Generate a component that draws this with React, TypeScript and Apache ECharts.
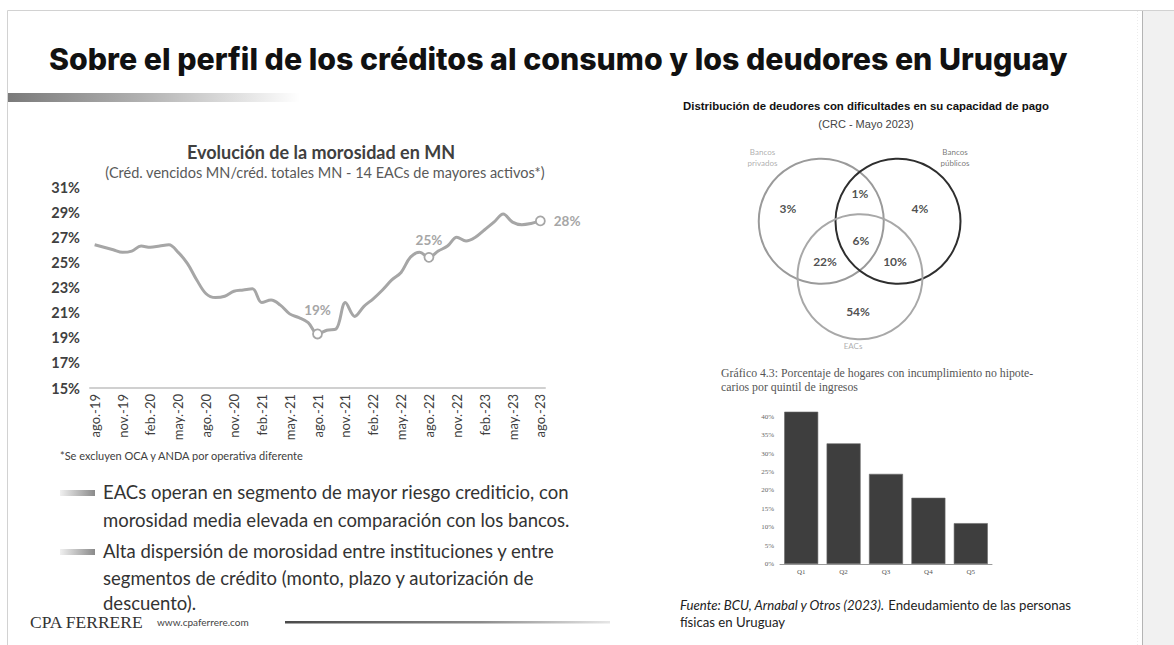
import React, { useEffect, useRef } from "react";
import * as echarts from "echarts";

// ---- Line chart: Evolución de la morosidad en MN ----
const monthLabels = [
  "ago.-19", "sep.-19", "oct.-19", "nov.-19", "dic.-19",
  "ene.-20", "feb.-20", "mar.-20", "abr.-20", "may.-20", "jun.-20", "jul.-20", "ago.-20", "sep.-20", "oct.-20", "nov.-20", "dic.-20",
  "ene.-21", "feb.-21", "mar.-21", "abr.-21", "may.-21", "jun.-21", "jul.-21", "ago.-21", "sep.-21", "oct.-21", "nov.-21", "dic.-21",
  "ene.-22", "feb.-22", "mar.-22", "abr.-22", "may.-22", "jun.-22", "jul.-22", "ago.-22", "sep.-22", "oct.-22", "nov.-22", "dic.-22",
  "ene.-23", "feb.-23", "mar.-23", "abr.-23", "may.-23", "jun.-23", "jul.-23", "ago.-23",
];
const morosidad = [
  26.4, 26.2, 26.0, 25.8, 25.9,
  26.3, 26.2, 26.3, 26.4, 25.8, 24.9, 23.6, 22.5, 22.2, 22.3, 22.7, 22.8,
  22.9, 21.8, 22.0, 21.6, 20.9, 20.6, 20.2, 19.3, 19.6, 19.7, 21.8, 20.7,
  21.5, 22.1, 22.8, 23.6, 24.2, 25.4, 25.8, 25.4, 25.9, 26.3, 27.0, 26.7,
  27.0, 27.6, 28.2, 28.85, 28.2, 28.0, 28.1, 28.3,
];
const markedPoints = [
  { index: 24, text: "19%", position: "top", distance: 12 },
  { index: 36, text: "25%", position: "top", distance: 5 },
  { index: 48, text: "28%", position: "right", distance: 8 },
];
const yMin = 15;
const yMax = 31;
const yStep = 2;

// ---- Venn: Distribución de deudores con dificultades ----
const vennSets = [
  { name: "Bancos\nprivados", cx: 34.5, cy: 67.5, r: 25, color: "#9a9a9a", labelX: 11, labelY: 93, labelColor: "#9a9a9a" },
  { name: "Bancos\npúblicos", cx: 65.2, cy: 67.5, r: 25, color: "#2e2e2e", labelX: 88, labelY: 93, labelColor: "#555555" },
  { name: "EACs", cx: 50, cy: 45.3, r: 25, color: "#a8a8a8", labelX: 47.2, labelY: 17.6, labelColor: "#9a9a9a" },
];
const vennRegionLabels = ["3%", "1%", "4%", "6%", "22%", "10%", "54%"];
const vennRegionX = [21.2, 50, 74, 50.4, 36, 64, 49.2];
const vennRegionY = [72.8, 78.8, 72.8, 59.7, 51.3, 51.3, 31.6];

// ---- Bar chart: hogares con incumplimiento por quintil ----
const quintiles = ["Q1", "Q2", "Q3", "Q4", "Q5"];
const hogaresIncumplimiento = [41.4, 32.8, 24.5, 18.0, 11.1];

const SANS = "Lato";

export default function App() {
  const ref = useRef<HTMLDivElement>(null);

  useEffect(() => {
    document.body.style.margin = "0";
    if (!ref.current) return;
    const chart = echarts.init(ref.current, undefined, { renderer: "svg" });

    const lineData = morosidad.map((v, i) => {
      const m = markedPoints.find((p) => p.index === i);
      if (!m) return v;
      return {
        value: v,
        symbol: "circle",
        symbolSize: 9,
        itemStyle: { color: "#ffffff", borderColor: "#a6a6a6", borderWidth: 1.8 },
        label: {
          show: true,
          position: m.position,
          distance: m.distance,
          formatter: m.text,
          color: "#a6a6a6",
          fontFamily: SANS,
          fontWeight: "bold",
          fontSize: 13.5,
        },
      };
    });

    const gradBar = (stops: [number, string][]) =>
      new echarts.graphic.LinearGradient(0, 0, 1, 0, stops.map(([offset, color]) => ({ offset, color })));

    const option: any = {
      animation: false,
      backgroundColor: "#ffffff",
      grid: [
        { left: 90, top: 187, width: 455, height: 201 },
        { left: 735, top: 140, width: 250, height: 250 },
        { left: 780, top: 409.5, width: 212, height: 154.5 },
      ],
      xAxis: [
        {
          gridIndex: 0,
          type: "category",
          data: monthLabels,
          boundaryGap: true,
          axisLine: { lineStyle: { color: "#d0d0d0", width: 2 } },
          axisTick: { show: false },
          axisLabel: { interval: 2, rotate: 90, fontFamily: SANS, fontSize: 13, color: "#404040", margin: 6 },
        },
        { gridIndex: 1, type: "value", min: 0, max: 100, show: false },
        {
          gridIndex: 2,
          type: "category",
          data: quintiles,
          axisLine: { lineStyle: { color: "#9a9a9a", width: 1 } },
          axisTick: { show: false },
          axisLabel: { fontFamily: "Liberation Serif", fontSize: 7, color: "#555555", margin: 4 },
        },
      ],
      yAxis: [
        {
          gridIndex: 0,
          type: "value",
          min: yMin,
          max: yMax,
          interval: yStep,
          axisLine: { show: false },
          axisTick: { show: false },
          splitLine: { show: false },
          axisLabel: { formatter: "{value}%", fontFamily: SANS, fontWeight: "bold", fontSize: 14.5, color: "#404040", margin: 10 },
        },
        { gridIndex: 1, type: "value", min: 0, max: 100, show: false },
        {
          gridIndex: 2,
          type: "value",
          min: 0,
          max: 42,
          interval: 5,
          axisLine: { show: false },
          axisTick: { show: false },
          splitLine: { show: false },
          axisLabel: {
            formatter: (v: number) => (v % 5 === 0 ? v + "%" : ""),
            fontFamily: "Liberation Serif",
            fontSize: 7,
            color: "#666666",
            margin: 6,
          },
        },
      ],
      series: [
        {
          type: "line",
          xAxisIndex: 0,
          yAxisIndex: 0,
          data: lineData,
          smooth: 0.35,
          symbol: "none",
          showAllSymbol: true,
          lineStyle: { color: "#a6a6a6", width: 3 },
          itemStyle: { color: "#a6a6a6" },
          z: 3,
        },
        {
          type: "custom",
          xAxisIndex: 1,
          yAxisIndex: 1,
          data: vennSets.map((s) => [s.cx, s.cy, s.r]),
          encode: { x: 0, y: 1 },
          renderItem: (params: any, api: any) => {
            const c = api.coord([api.value(0), api.value(1)]);
            const rr = api.size([api.value(2), 0])[0];
            return {
              type: "circle",
              shape: { cx: c[0], cy: c[1], r: rr },
              style: { fill: "none", stroke: vennSets[params.dataIndex].color, lineWidth: 2 },
            };
          },
        },
        {
          type: "scatter",
          xAxisIndex: 1,
          yAxisIndex: 1,
          symbolSize: 1,
          itemStyle: { color: "rgba(0,0,0,0)" },
          data: vennRegionLabels.map((t, i) => ({ name: t, value: [vennRegionX[i], vennRegionY[i]] })),
          label: {
            show: true,
            position: "inside",
            formatter: "{b}",
            fontFamily: SANS,
            fontWeight: "bold",
            fontSize: 12,
            color: "#222222",
          },
        },
        {
          type: "scatter",
          xAxisIndex: 1,
          yAxisIndex: 1,
          symbolSize: 1,
          itemStyle: { color: "rgba(0,0,0,0)" },
          data: vennSets.map((s) => ({
            name: s.name,
            value: [s.labelX, s.labelY],
            label: { color: s.labelColor },
          })),
          label: {
            show: true,
            position: "inside",
            formatter: "{b}",
            fontFamily: SANS,
            fontSize: 8,
            lineHeight: 11,
            align: "center",
          },
        },
        {
          type: "bar",
          xAxisIndex: 2,
          yAxisIndex: 2,
          data: hogaresIncumplimiento,
          barWidth: 34,
          itemStyle: { color: "#3e3e3e", borderColor: "#6a6a6a", borderWidth: 0.6 },
        },
      ],
      graphic: [
        // slide frame
        { type: "rect", silent: true, shape: { x: 7.5, y: 10.5, width: 1180, height: 650 }, style: { fill: "none", stroke: "#d2d2d2", lineWidth: 1 } },
        { type: "rect", silent: true, shape: { x: 1142, y: 11, width: 32, height: 634 }, style: { fill: "#f1f1f1" } },
        { type: "line", silent: true, shape: { x1: 1142.5, y1: 11, x2: 1142.5, y2: 645 }, style: { stroke: "#b4b4b4", lineWidth: 1 } },
        { type: "line", silent: true, shape: { x1: 1137.5, y1: 11, x2: 1137.5, y2: 645 }, style: { stroke: "#ececec", lineWidth: 1, lineDash: [1, 2] } },
        // slide title
        {
          type: "text",
          x: 49,
          y: 59,
          style: {
            text: "Sobre el perfil de los créditos al consumo y los deudores en Uruguay",
            verticalAlign: "middle",
            fontFamily: "Inter",
            fontWeight: 800,
            fontSize: 30.3,
            fill: "#111111",
          },
        },
        { type: "rect", silent: true, shape: { x: 8, y: 93, width: 292, height: 9 }, style: { fill: gradBar([[0, "#7a7a7a"], [0.45, "#b0b0b0"], [1, "#ffffff"]]) } },
        // line chart titles
        {
          type: "text",
          x: 321,
          y: 152,
          style: { text: "Evolución de la morosidad en MN", align: "center", verticalAlign: "middle", fontFamily: SANS, fontWeight: "bold", fontSize: 18, fill: "#404040" },
        },
        {
          type: "text",
          x: 325,
          y: 172,
          style: {
            text: "(Créd. vencidos MN/créd. totales MN - 14 EACs de mayores activos*)",
            align: "center",
            verticalAlign: "middle",
            fontFamily: SANS,
            fontSize: 14.5,
            fill: "#595959",
          },
        },
        {
          type: "text",
          x: 60,
          y: 455,
          style: { text: "*Se excluyen OCA y ANDA por operativa diferente", verticalAlign: "middle", fontFamily: SANS, fontSize: 11, fill: "#404040" },
        },
        // bullets
        { type: "rect", silent: true, shape: { x: 60, y: 490, width: 35, height: 6 }, style: { fill: gradBar([[0, "#f0f0f0"], [1, "#8a8a8a"]]) } },
        { type: "rect", silent: true, shape: { x: 60, y: 549, width: 35, height: 6 }, style: { fill: gradBar([[0, "#f0f0f0"], [1, "#8a8a8a"]]) } },
        { type: "text", x: 103, y: 492, style: { text: "EACs operan en segmento de mayor riesgo crediticio, con", verticalAlign: "middle", fontFamily: SANS, fontSize: 18.5, fill: "#333333" } },
        { type: "text", x: 103, y: 520, style: { text: "morosidad media elevada en comparación con los bancos.", verticalAlign: "middle", fontFamily: SANS, fontSize: 18.5, fill: "#333333" } },
        { type: "text", x: 103, y: 551, style: { text: "Alta dispersión de morosidad entre instituciones y entre", verticalAlign: "middle", fontFamily: SANS, fontSize: 18.5, fill: "#333333" } },
        { type: "text", x: 103, y: 578, style: { text: "segmentos de crédito (monto, plazo y autorización de", verticalAlign: "middle", fontFamily: SANS, fontSize: 18.5, fill: "#333333" } },
        { type: "text", x: 103, y: 603, style: { text: "descuento).", verticalAlign: "middle", fontFamily: SANS, fontSize: 18.5, fill: "#333333" } },
        // footer
        { type: "text", x: 30, y: 622, style: { text: "CPA FERRERE", verticalAlign: "middle", fontFamily: "Liberation Serif", fontSize: 17.5, fill: "#333333" } },
        { type: "text", x: 157, y: 622, style: { text: "www.cpaferrere.com", verticalAlign: "middle", fontFamily: SANS, fontSize: 10, fill: "#444444" } },
        { type: "rect", silent: true, shape: { x: 285, y: 621, width: 325, height: 2.5 }, style: { fill: gradBar([[0, "#4a4a4a"], [0.6, "#8a8a8a"], [1, "#e6e6e6"]]) } },
        // venn titles
        {
          type: "text",
          x: 866,
          y: 106,
          style: { text: "Distribución de deudores con dificultades en su capacidad de pago", align: "center", verticalAlign: "middle", fontFamily: "Liberation Sans", fontWeight: "bold", fontSize: 11.4, fill: "#111111" },
        },
        {
          type: "text",
          x: 866,
          y: 124,
          style: { text: "(CRC - Mayo 2023)", align: "center", verticalAlign: "middle", fontFamily: "Liberation Sans", fontSize: 11, fill: "#444444" },
        },
        // bar chart caption
        { type: "text", x: 721, y: 373, style: { text: "Gráfico 4.3: Porcentaje de hogares con incumplimiento no hipote-", verticalAlign: "middle", fontFamily: "Liberation Serif", fontSize: 11.8, fill: "#555555" } },
        { type: "text", x: 721, y: 387, style: { text: "carios por quintil de ingresos", verticalAlign: "middle", fontFamily: "Liberation Serif", fontSize: 11.8, fill: "#555555" } },
        // source
        {
          type: "text",
          x: 680,
          y: 605,
          style: {
            text: "{i|Fuente: BCU, Arnabal y Otros (2023).} {n|Endeudamiento de las personas}",
            verticalAlign: "middle",
            rich: {
              i: { fontFamily: SANS, fontStyle: "italic", fontSize: 13.2, fill: "#222222" },
              n: { fontFamily: SANS, fontSize: 13.2, fill: "#222222" },
            },
          },
        },
        { type: "text", x: 680, y: 622, style: { text: "físicas en Uruguay", verticalAlign: "middle", fontFamily: SANS, fontSize: 13.2, fill: "#222222" } },
      ],
    };

    chart.setOption(option);
    return () => chart.dispose();
  }, []);

  return <div ref={ref} style={{ width: 1174, height: 645 }} />;
}
